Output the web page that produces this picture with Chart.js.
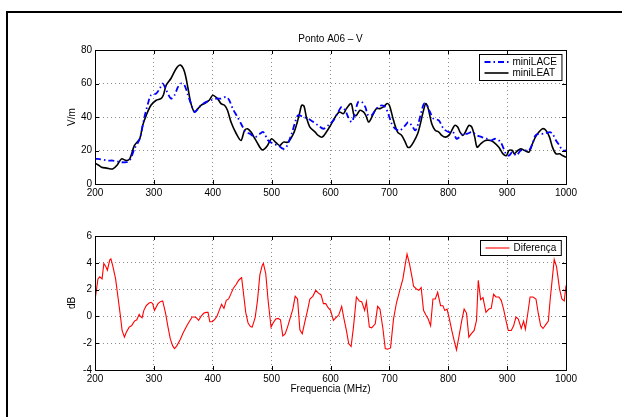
<!DOCTYPE html>
<html>
<head>
<meta charset="utf-8">
<script src="https://cdn.jsdelivr.net/npm/chart.js@4.4.0/dist/chart.umd.min.js"></script>
<style>
  html, body { margin: 0; padding: 0; background: #fff; overflow: hidden; }
  #wrap { position: relative; width: 622px; height: 417px; overflow: hidden; }
  #frame { position: absolute; left: 6px; top: 11px; width: 700px; height: 500px;
           border-top: 2px solid #000; border-left: 2px solid #000; }
  canvas { position: absolute; left: 0; top: 0; }
</style>
</head>
<body>
<div id="wrap">
  <div id="frame"></div>
  <canvas id="fieldChart" width="622" height="417"></canvas>
  <canvas id="diffChart" width="622" height="417"></canvas>
</div>
<script>
// Field strength, miniLACE (V/m)
const freqLACE = [200,205,222,230,245,253,259,267,276,284,290,295,304,310,315,321,329,335,341,346,352,358,363,369,375,380,389,397,406,414,423,428,434,442,451,456,463,472,480,486,494,503,511,520,525,534,540,545,554,562,571,579,588,596,605,613,619,625,630,636,642,647,653,659,664,670,676,681,687,693,698,704,710,718,727,732,738,744,749,755,759,764,769,775,784,792,801,808,814,819,825,832,840,849,857,866,873,880,889,898,903,909,916,923,932,937,943,948,954,963,972,977,983,989,994,1000];
const miniLACE = [15,15,14,14,13,13,14,21,27,40,48,53,54,57,60,56,51,53,58,60,59,53,48,43,45,47,49,50,51,51,52,50,45,40,34,31,30,28,30,31,26,24,23,21,22,30,37,41,40,39,37,35,33,35,38,43,46,44,40,37,43,49,49,46,41,41,44,46,47,46,42,36,33,32,35,37,35,32,36,44,48,47,43,39,38,33,31,31,27,28,30,30,31,29,28,27,26,27,25,18,17,19,17,20,20,20,24,29,30,30,31,30,26,23,20,20];

// Field strength, miniLEAT (V/m)
const freqLEAT = [200,205,211,220,230,238,245,253,259,267,276,281,287,295,304,312,316,321,329,338,345,352,358,363,369,375,380,386,394,400,408,414,420,425,431,440,448,454,459,465,470,475,483,488,493,500,508,514,520,528,537,542,548,551,555,559,565,574,579,586,593,600,608,615,622,627,635,640,644,650,656,660,665,673,678,684,690,696,700,707,714,721,727,731,735,741,748,752,758,762,766,772,778,784,789,795,801,806,811,816,820,825,829,835,840,845,849,855,863,872,877,886,893,899,903,909,912,918,923,930,937,943,948,954,960,966,972,977,983,989,994,1000];
const miniLEAT = [12.5,11.5,10,9.5,9,11.5,15,14,15,23,27,35,41,47,50,51,53,59,63,69,71,67,57,48,43,45,47,48,50,53,51,48,47,44,37,30,26,32,33,31,28,25,20.5,21,23,27,24.5,23,25,25,30,35,43,47,46.5,40,34,31,29,28,31,35,40,43,42,45,48,41,41,44,43,41,37,42,45,45,46,48,47,38,31,29,25,22,22,25,30,35,44,48,45,36,32,31,29,28,29,32,35,34,31,29,31,35,34,28,22,24,26,26,25,22,18,17,20,20,18,20,21,20,19,24,28,31,33,32,28,22,18,18,17,16];

// Difference between the two sensors (dB)
const freqDiff = [200,205,208,212,215,218,221,225,227,230,235,239,243,246,250,253,258,262,267,271,275,277,280,283,287,292,295,298,301,304,307,311,315,320,324,328,332,335,339,345,350,356,360,365,369,372,376,380,385,389,392,395,399,403,407,411,415,419,423,427,431,435,440,444,449,452,456,460,464,467,472,476,480,484,486,490,494,499,503,507,511,515,519,523,527,532,536,540,544,548,552,557,561,565,570,575,579,584,588,592,596,600,605,609,614,619,623,627,631,635,639,644,649,653,658,661,666,670,676,680,684,689,693,697,702,707,712,718,723,727,730,734,739,741,746,750,754,758,762,766,770,774,778,782,787,791,794,798,802,806,810,814,818,823,827,831,835,839,844,848,851,855,859,864,869,873,877,881,886,890,894,898,902,907,911,915,919,924,928,931,935,939,944,949,953,957,961,966,970,973,977,980,984,989,993,997,1000];
const diferenca = [1.2,2.8,2.95,2.8,3.95,3.75,3.45,4.2,4.3,3.8,2.8,1.45,0.1,-1.05,-1.55,-1.2,-0.8,-0.7,-0.35,-0.25,0.15,0,-0.1,0.45,0.8,1.0,1.05,0.95,0.45,0.7,0.95,1.1,1.15,0.2,-0.8,-1.7,-2.2,-2.4,-2.2,-1.7,-1.2,-0.7,-0.4,-0.05,-0.05,-0.1,-0.3,0,0.25,0.3,0.3,-0.4,-0.4,-0.25,0,0.45,0.9,0.6,1.2,1.3,1.7,2.1,2.4,2.7,2.9,1.8,0.3,-0.5,-0.75,-0.8,-0.1,1.2,3.1,3.8,3.95,3.2,1.2,-0.8,-0.45,-0.2,-0.15,-0.25,-1.45,-1.3,-0.8,-0.05,0.55,1.5,1.3,-1.0,-1.3,-0.3,0.45,1.3,1.5,1.95,1.75,1.6,0.95,0.95,0.65,0.45,-0.3,-0.1,0.1,0.75,-0.2,-1.05,-2.05,-2.25,-0.8,1.45,1.15,1.1,0.45,1.1,-0.8,-0.85,-0.55,0.75,0.55,-0.9,-2.4,-2.45,-2.35,-0.2,1.0,2.0,2.8,3.9,4.65,3.95,2.8,2.25,2.05,1.95,2.15,0.45,0.1,-0.2,-0.7,1.3,1.3,1.8,0.8,0.8,0.45,0.55,-0.2,-1.05,-1.8,-2.5,-1.55,-0.3,0.55,0.25,-1.55,-1.3,-1.05,-0.3,2.7,1.25,1.4,0.3,0.55,0.6,1.65,1.45,1.45,1.2,0.55,-0.3,-1.05,-1.05,-0.7,-0.05,-0.2,-0.9,-0.35,-0.95,0.2,1.45,1.45,1.3,0.2,-0.7,-0.9,-0.6,-0.35,1.2,2.95,4.25,3.7,2.05,1.3,1.15,2.3];

// Axis ticks
const freqTicks = { min: 200, max: 1000, step: 100 };
const fieldTicks = { min: 0, max: 80, step: 20 };
const diffTicks = { min: -4, max: 6, step: 2 };

const FONT = '"Liberation Sans", Arial, Helvetica, sans-serif';
const pts = (xs, ys) => xs.map((x, i) => ({ x, y: ys[i] }));

// Boxed axes with inward ticks, inset legend and labels
const matlabAxes = {
  id: 'matlabAxes',
  afterDatasetsDraw(chart, args, o) {
    const { ctx, chartArea: a, scales: { x, y } } = chart;
    ctx.save();
    ctx.strokeStyle = '#000';
    ctx.lineWidth = 1;
    ctx.setLineDash([]);
    const tl = 4;
    ctx.beginPath();
    x.ticks.forEach(t => {
      const px = Math.round(x.getPixelForValue(t.value)) + 0.5;
      ctx.moveTo(px, a.bottom); ctx.lineTo(px, a.bottom - tl);
      ctx.moveTo(px, a.top); ctx.lineTo(px, a.top + tl);
    });
    y.ticks.forEach(t => {
      const py = Math.round(y.getPixelForValue(t.value)) + 0.5;
      ctx.moveTo(a.left, py); ctx.lineTo(a.left + tl, py);
      ctx.moveTo(a.right, py); ctx.lineTo(a.right - tl, py);
    });
    ctx.stroke();
    ctx.strokeRect(a.left + 0.5, a.top + 0.5, a.right - a.left, a.bottom - a.top);

    // legend
    const ds = chart.data.datasets;
    ctx.font = '10px ' + FONT;
    const maxW = Math.max(...ds.map(d => ctx.measureText(d.label).width));
    const lineLen = 24, rowH = 11;
    const w = 5 + lineLen + 4 + maxW + 5;
    const h = ds.length * rowH + 4;
    const bx = Math.round(a.right - 5 - w) + 0.5;
    const by = a.top + 4.5;
    ctx.fillStyle = '#fff';
    ctx.fillRect(bx, by, w, h);
    ctx.strokeRect(bx, by, w, h);
    ds.forEach((d, i) => {
      const cy = by + 2 + rowH * i + rowH / 2;
      ctx.strokeStyle = d.borderColor;
      ctx.lineWidth = d.borderWidth;
      ctx.setLineDash(d.borderDash || []);
      ctx.beginPath();
      ctx.moveTo(bx + 5, cy); ctx.lineTo(bx + 5 + lineLen, cy);
      ctx.stroke();
      ctx.setLineDash([]);
      ctx.fillStyle = '#000';
      ctx.textAlign = 'left';
      ctx.textBaseline = 'middle';
      ctx.fillText(d.label, bx + 5 + lineLen + 4, cy + 0.5);
    });

    // title and axis labels
    const cx = (a.left + a.right) / 2;
    ctx.fillStyle = '#000';
    ctx.textAlign = 'center';
    ctx.textBaseline = 'middle';
    if (o.title) ctx.fillText(o.title, cx, a.top - 11);
    if (o.xlabel) ctx.fillText(o.xlabel, cx, a.bottom + 19);
    if (o.ylabel) {
      ctx.save();
      ctx.translate(a.left - 23, (a.top + a.bottom) / 2);
      ctx.rotate(-Math.PI / 2);
      ctx.fillText(o.ylabel, 0, 0);
      ctx.restore();
    }
    ctx.restore();
  }
};

function axesOptions(yt, padding, labels) {
  const tickFont = { family: FONT, size: 10 };
  const plain = v => String(v);
  return {
    responsive: false,
    animation: false,
    devicePixelRatio: 1,
    layout: { padding },
    elements: { point: { radius: 0 } },
    plugins: { legend: { display: false }, tooltip: { enabled: false }, matlabAxes: labels },
    scales: {
      x: {
        type: 'linear', min: freqTicks.min, max: freqTicks.max,
        ticks: { stepSize: freqTicks.step, color: '#000', font: tickFont, padding: 3, maxRotation: 0,
                 autoSkip: false, callback: plain },
        grid: { color: 'rgba(0,0,0,0.45)', lineWidth: 1, drawTicks: false },
        border: { display: false, dash: [1, 3] },
        afterFit(s) { s.height = 20; }
      },
      y: {
        type: 'linear', min: yt.min, max: yt.max,
        ticks: { stepSize: yt.step, color: '#000', font: tickFont, padding: 3, callback: plain },
        grid: { color: 'rgba(0,0,0,0.45)', lineWidth: 1, drawTicks: false },
        border: { display: false, dash: [1, 3] },
        afterFit(s) { s.width = 95; }
      }
    }
  };
}

new Chart(document.getElementById('fieldChart'), {
  type: 'line',
  data: {
    datasets: [
      { label: 'miniLACE', data: pts(freqLACE, miniLACE), borderColor: '#0000ff', borderWidth: 1.8,
        borderDash: [6, 3, 1.5, 3], tension: 0.3, fill: false },
      { label: 'miniLEAT', data: pts(freqLEAT, miniLEAT), borderColor: '#000000', borderWidth: 1.6,
        tension: 0.3, fill: false }
    ]
  },
  options: axesOptions(fieldTicks, { left: 0, right: 56, top: 50, bottom: 213 },
    { title: 'Ponto A06 \u2013 V', ylabel: 'V/m' }),
  plugins: [matlabAxes]
});

new Chart(document.getElementById('diffChart'), {
  type: 'line',
  data: {
    datasets: [
      { label: 'Diferença', data: pts(freqDiff, diferenca), borderColor: '#ff0000', borderWidth: 1.1,
        tension: 0, fill: false }
    ]
  },
  options: axesOptions(diffTicks, { left: 0, right: 56, top: 236, bottom: 27 },
    { ylabel: 'dB', xlabel: 'Frequencia (MHz)' }),
  plugins: [matlabAxes]
});
</script>
</body>
</html>
